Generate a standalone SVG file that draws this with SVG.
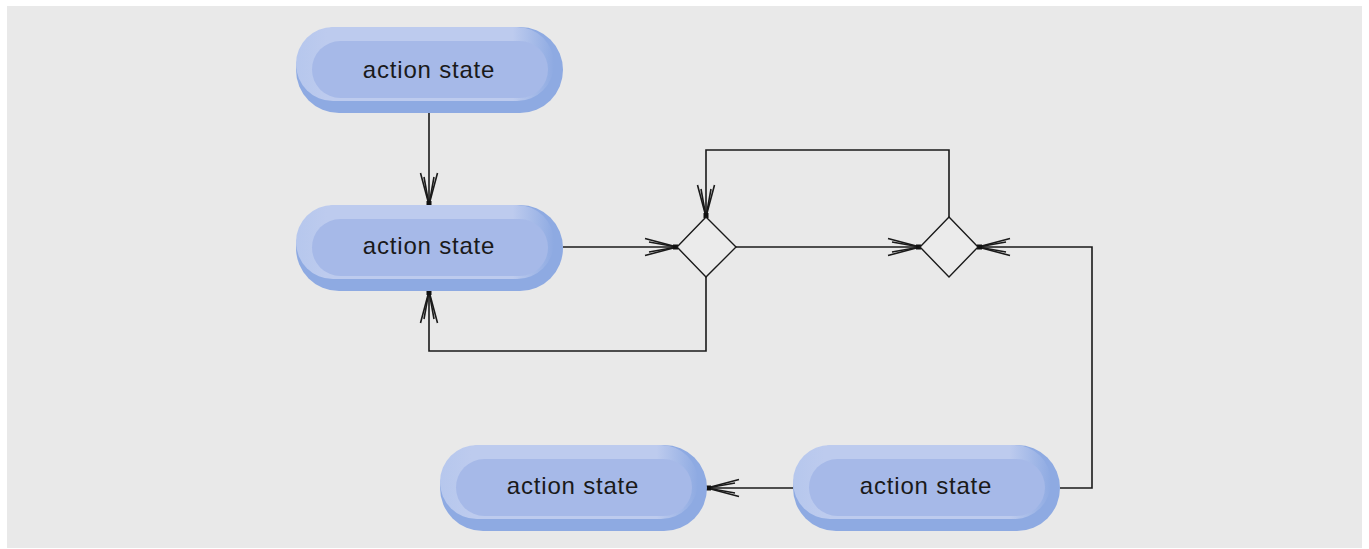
<svg xmlns="http://www.w3.org/2000/svg" width="1369" height="549" viewBox="0 0 1369 549">
  <defs>
    <style>
      .panel { fill: #e9e9e9; }
      .pill-dark { fill: #8eaae2; }
      .pill-core { fill: #a6b9e8; }
      .label { font-family: "Liberation Sans", Arial, sans-serif; font-size: 24px; letter-spacing: 0.8px; fill: #1a1a1a; text-anchor: middle; }
      .wire { fill: none; stroke: #1a1a1a; stroke-width: 1.6; }
      .diamond { fill: #ebebeb; stroke: #1a1a1a; stroke-width: 1.4; }
    </style>
    <!-- light bevel fading into the darker right cap -->
    <linearGradient id="bevel" x1="0" y1="0" x2="1" y2="0">
      <stop offset="0" stop-color="#b6c7ed"/>
      <stop offset="0.12" stop-color="#bdcbee"/>
      <stop offset="0.84" stop-color="#bdcbee"/>
      <stop offset="1" stop-color="#8eaae2"/>
    </linearGradient>
    <!-- open arrowhead pointing along +x, tip at origin -->
    <g id="head">
      <polyline class="wire" points="-32,-8.5 0,0 -32,8.5" stroke-width="1.3"/>
      <polyline class="wire" points="-28,-5 0,0 -28,5" stroke-width="1"/>
      <rect x="-4" y="-2.5" width="5" height="5" fill="#111"/>
    </g>
    <!-- action state pill, 267 x 86, origin at top-left -->
    <g id="pill">
      <rect class="pill-dark" x="0" y="0" width="267" height="86" rx="43" ry="43"/>
      <rect fill="url(#bevel)" x="0" y="0" width="258" height="74" rx="37" ry="37"/>
      <rect class="pill-core" x="16" y="14" width="236" height="57" rx="28.5" ry="28.5"/>
    </g>
  </defs>

  <rect class="panel" x="7" y="6" width="1355" height="542"/>

  <g id="connectors">
    <!-- top state to middle state -->
    <line class="wire" x1="429" y1="113" x2="429" y2="205"/>
    <use href="#head" transform="translate(429,205) rotate(90)"/>
    <!-- middle state to first decision -->
    <line class="wire" x1="563" y1="247" x2="677" y2="247"/>
    <use href="#head" transform="translate(677,247)"/>
    <!-- first decision to second decision -->
    <line class="wire" x1="736" y1="247" x2="920" y2="247"/>
    <use href="#head" transform="translate(920,247)"/>
    <!-- loop back from second decision to first decision -->
    <polyline class="wire" points="949,217 949,150 706,150 706,217"/>
    <use href="#head" transform="translate(706,217) rotate(90)"/>
    <!-- loop back from first decision to middle state -->
    <polyline class="wire" points="706,277 706,351 429,351 429,291"/>
    <use href="#head" transform="translate(429,291) rotate(-90)"/>
    <!-- lower-right state up to second decision -->
    <polyline class="wire" points="1060,488 1092,488 1092,247 978,247"/>
    <use href="#head" transform="translate(978,247) rotate(180)"/>
    <!-- lower-right state to lower-left state -->
    <line class="wire" x1="793" y1="488" x2="707" y2="488"/>
    <use href="#head" transform="translate(707,488) rotate(180)"/>
  </g>

  <g id="state-top">
    <use href="#pill" x="296" y="27"/>
    <text class="label" x="429" y="78">action state</text>
  </g>
  <g id="state-middle">
    <use href="#pill" x="296" y="205"/>
    <text class="label" x="429" y="254">action state</text>
  </g>
  <g id="decision-left">
    <polygon class="diamond" points="706,217 736,247 706,277 677,247"/>
  </g>
  <g id="decision-right">
    <polygon class="diamond" points="949,217 978,247 949,277 920,247"/>
  </g>
  <g id="state-bottom-left">
    <use href="#pill" x="440" y="445"/>
    <text class="label" x="573" y="494">action state</text>
  </g>
  <g id="state-bottom-right">
    <use href="#pill" x="793" y="445"/>
    <text class="label" x="926" y="494">action state</text>
  </g>
</svg>
